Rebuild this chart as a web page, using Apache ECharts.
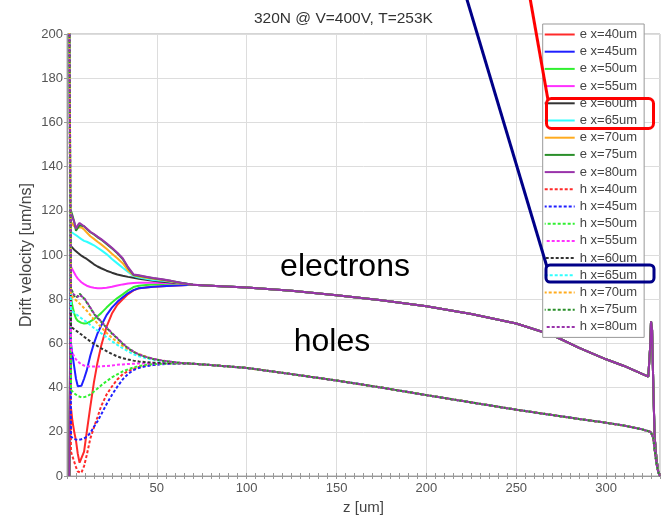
<!DOCTYPE html>
<html><head><meta charset="utf-8">
<script src="https://cdn.jsdelivr.net/npm/echarts@6/dist/echarts.min.js"></script>
<style>html,body{margin:0;padding:0;background:#fff}#c{width:664px;height:522px}</style>
</head><body><div id="c"></div>
<script>
// ---- data ----
const Z_EARLY = [1.3, 2.2, 3, 4, 5, 6, 7, 8, 9.5, 11, 13, 15, 17, 19, 22, 25, 28, 31, 34, 37, 40, 44, 48, 53, 58, 64];
const Z_TAIL = [70, 80, 100, 125, 150, 175, 200, 225, 250, 270, 285, 300, 310, 320, 323.5, 324.5, 325, 325.6, 326.3, 327, 328, 329, 330];
const E_TAIL = [86.5, 86.1, 85.3, 83.8, 81.8, 79.5, 76.8, 73.3, 69, 63.8, 58, 52.8, 49.8, 46.2, 45, 58, 70, 66, 40, 18, 8, 2, 0];
const H_TAIL = [50.8, 50.2, 48.9, 46.1, 43.2, 40, 36.6, 33.3, 30, 27.6, 25.8, 24.1, 22.8, 21.1, 20.3, 20, 19.8, 19.4, 17, 12, 6, 2, 0];

const E40 = [0, 31, 25, 20, 16, 10, 6, 5.5, 11, 20, 31.5, 42.5, 51.5, 58.8, 67.5, 73.5, 77.5, 80, 82.3, 84, 84.9, 85.3, 85.6, 85.9, 86.1, 86.3];
const E45 = [0, 60, 55, 49.5, 44, 40.6, 39.8, 40.8, 44, 47.8, 54.5, 60, 64.6, 68, 72.8, 76.2, 78.8, 80.9, 82.8, 84.1, 85, 85.3, 85.6, 85.9, 86.1, 86.3];
const E50 = [0, 81, 77, 73.6, 71.3, 70.2, 69.6, 69.3, 69, 69.1, 70, 71, 72.3, 73.7, 76.2, 78.5, 80.5, 82.2, 84, 85.5, 86.1, 86.4, 86.7, 86.9, 87, 87];
const E55 = [0, 94.7, 93.5, 92, 90.5, 89.3, 88.4, 87.7, 86.8, 86.1, 85.5, 85.2, 85, 85, 85.2, 85.6, 86.2, 86.7, 87.1, 87.3, 87.4, 87.4, 87.4, 87.3, 87.2, 87.1];
const E60 = [0, 104, 103.2, 102.4, 101.7, 101, 100.3, 99.7, 98.9, 98.2, 97, 95.8, 94.8, 94, 92.9, 92, 91.2, 90.6, 90.1, 89.7, 89.3, 88.8, 88.4, 87.9, 87.6, 87.2];
const E65 = [0, 110.5, 110, 109.5, 109, 108.4, 107.8, 107.2, 106.4, 106, 105.2, 104.4, 103.3, 102.2, 100.4, 98.2, 96.2, 94.2, 92.3, 90.5, 89.8, 89.2, 88.7, 88.3, 87.9, 87.3];
const E70 = [0, 115, 114, 113, 112.5, 112.5, 112.8, 112.5, 111.5, 110.2, 108.5, 107.3, 106, 104.8, 102.8, 100.6, 98.5, 96.3, 93, 90.8, 90.3, 89.7, 89.2, 88.7, 88, 87.2];
const E75 = [0, 120, 118, 115, 111, 110.5, 113.5, 114, 113, 111.8, 110.3, 109.3, 108, 107, 105, 103, 100.8, 98.2, 94.2, 91, 90.6, 90, 89.5, 88.9, 88.2, 87.3];
const E80 = [0, 119, 117, 115, 112, 113.5, 114.5, 114.2, 113, 112, 110.5, 109.5, 108.3, 107.2, 105.3, 103.3, 101, 98.5, 94.5, 91.2, 90.8, 90.2, 89.6, 89, 88.3, 87.3];

const H40 = [210, 11, 9, 6.5, 4, 2, 1.2, 1.5, 4.5, 9.5, 17, 22, 26.7, 31.6, 36.8, 40.5, 43.7, 46, 47.5, 48.5, 49.3, 50, 50.4, 50.7, 50.9, 51];
const H45 = [210, 17.8, 17.2, 16.7, 16.4, 16.3, 16.4, 16.6, 17, 17.7, 19.5, 22.3, 24.8, 27.8, 32.5, 36.7, 40.4, 43.7, 46.2, 47.9, 48.9, 49.7, 50.2, 50.6, 50.8, 51];
const H50 = [210, 39, 38.2, 37.4, 36.7, 36.2, 35.8, 35.6, 35.7, 36, 36.9, 38.2, 39.6, 41, 42.9, 44.6, 46, 47.3, 48.3, 49.1, 49.8, 50.3, 50.6, 50.8, 50.9, 51];
const H55 = [210, 58, 56, 54, 52.8, 51.8, 51, 50.5, 50, 49.7, 49.5, 49.5, 49.5, 49.6, 49.8, 50, 50.3, 50.5, 50.7, 50.8, 50.9, 51, 51, 51, 51, 51];
const H60 = [210, 67.6, 67, 66.4, 65.8, 65.2, 64.6, 64, 63, 62.1, 60.9, 59.8, 58.8, 57.8, 56.5, 55.2, 54.1, 53.3, 52.7, 52.2, 51.8, 51.5, 51.3, 51.2, 51.1, 51];
const H65 = [210, 75, 74.4, 73.8, 73.2, 72.6, 72, 71.4, 70.5, 69.6, 68.3, 67, 65.8, 64.6, 62.8, 61, 59.3, 57.8, 56.4, 55.1, 54.2, 53.3, 52.6, 52, 51.5, 51.1];
const H70 = [210, 82, 81, 80.2, 79.5, 78.8, 78, 77.2, 76, 74.8, 72.8, 70.8, 69, 67.3, 64.8, 62.5, 60.6, 58.9, 57.4, 56.2, 55.2, 54, 53, 52.2, 51.6, 51.1];
const H75 = [210, 85, 83.5, 81.5, 80.5, 81.5, 82.5, 82, 80.3, 78.5, 76, 73.4, 71.5, 69.8, 67.1, 64.5, 62.2, 59.8, 57.8, 56.2, 54.9, 53.8, 52.9, 52.2, 51.6, 51.1];
const H80 = [210, 84, 83, 82, 81.5, 81, 82, 82, 80.5, 78.8, 76.2, 73.6, 71.7, 70, 67.3, 64.7, 62.4, 60, 58, 56.3, 55, 53.9, 53, 52.3, 51.7, 51.1];

const X_POS = ['40', '45', '50', '55', '60', '65', '70', '75', '80'];
const E_SERIES = [E40, E45, E50, E55, E60, E65, E70, E75, E80];
const H_SERIES = [H40, H45, H50, H55, H60, H65, H70, H75, H80];
const COLORS = ['#ff2a2a', '#1f1fff', '#30f030', '#ff30ff', '#333333', '#30ffff', '#ffab1f', '#2a8f2a', '#9933aa'];
const TITLE = '320N @ V=400V, T=253K';

// ---- build ----
const FONT = 'Liberation Sans';
function zip(zs, vs) { return zs.map((z, i) => [z, vs[i]]); }
const series = [];
E_SERIES.forEach((vals, i) => {
  series.push({
    name: 'e x=' + X_POS[i] + 'um', type: 'line', symbol: 'none', showSymbol: false, animation: false,
    data: zip(Z_EARLY, vals).concat(zip(Z_TAIL, E_TAIL)),
    lineStyle: { color: COLORS[i], width: 2 }, itemStyle: { color: COLORS[i] }
  });
});
H_SERIES.forEach((vals, i) => {
  series.push({
    name: 'h x=' + X_POS[i] + 'um', type: 'line', symbol: 'none', showSymbol: false, animation: false,
    data: zip(Z_EARLY, vals).concat(zip(Z_TAIL, H_TAIL)),
    lineStyle: { color: COLORS[i], width: 2, type: [3, 2], dashOffset: i % 5 }, itemStyle: { color: COLORS[i] }
  });
});

const chart = echarts.init(document.getElementById('c'), null, { renderer: 'canvas' });
chart.setOption({
  animation: false,
  backgroundColor: '#fff',
  textStyle: { fontFamily: FONT },
  title: { text: TITLE, left: 249, top: 6, textStyle: { fontFamily: FONT, fontSize: 15.5, fontWeight: 'normal', color: '#333' } },
  grid: { left: 67, right: 4, top: 34, bottom: 46, show: true, borderColor: '#aaa', borderWidth: 1 },
  xAxis: [{
    type: 'value', min: 0, max: 330, interval: 50,
    name: 'z [um]', nameLocation: 'middle', nameGap: 24, nameMoveOverlap: false,
    nameTextStyle: { fontFamily: FONT, fontSize: 15, color: '#444' },
    axisLine: { lineStyle: { color: '#999' } },
    axisTick: { show: true, length: 3, lineStyle: { color: '#999' } },
    minorTick: { show: true, splitNumber: 10, length: 3, lineStyle: { color: '#999' } },
    axisLabel: { fontFamily: FONT, fontSize: 13, color: '#555', margin: 6, showMinLabel: false, showMaxLabel: false },
    splitLine: { lineStyle: { color: '#ddd' } }
  }, {
    type: 'value', min: 0, max: 330, interval: 50, position: 'bottom',
    axisLine: { show: false }, axisLabel: { show: false }, splitLine: { show: false },
    axisTick: { show: true, inside: true, length: 3, lineStyle: { color: '#999' } },
    minorTick: { show: true, splitNumber: 10, length: 3, lineStyle: { color: '#999' } }
  }],
  yAxis: {
    type: 'value', min: 0, max: 200, interval: 20,
    name: 'Drift velocity [um/ns]', nameLocation: 'middle', nameGap: 32, nameMoveOverlap: false,
    nameTextStyle: { fontFamily: FONT, fontSize: 16, color: '#444' },
    axisLine: { show: true, lineStyle: { color: '#999' } },
    axisTick: { show: true, length: 3, lineStyle: { color: '#999' } },
    axisLabel: { fontFamily: FONT, fontSize: 13, color: '#555', margin: 4 },
    splitLine: { lineStyle: { color: '#ddd' } }
  },
  legend: {
    orient: 'vertical', left: 542.7, top: 24,
    padding: [4, 7, 4, 1], itemWidth: 30, itemHeight: 13, itemGap: 4.2,
    backgroundColor: '#fff', borderColor: '#999', borderWidth: 1,
    itemStyle: { opacity: 0, borderWidth: 0 },
    textStyle: { fontFamily: FONT, fontSize: 13, color: '#444' }
  },
  series: series,
  graphic: [
    { type: 'line', shape: { x1: 530, y1: -2, x2: 548, y2: 100 }, style: { stroke: '#ff0000', lineWidth: 3 }, z: 100 },
    { type: 'rect', shape: { x: 546.5, y: 98.5, width: 107, height: 30, r: 5 }, style: { fill: 'none', stroke: '#ff0000', lineWidth: 3 }, z: 100 },
    { type: 'line', shape: { x1: 466.5, y1: -2, x2: 547, y2: 267 }, style: { stroke: '#000088', lineWidth: 3 }, z: 100 },
    { type: 'rect', shape: { x: 546, y: 265, width: 108, height: 17, r: 4 }, style: { fill: 'none', stroke: '#000088', lineWidth: 3 }, z: 100 },
    { type: 'text', style: { text: 'electrons', x: 345, y: 267, align: 'center', verticalAlign: 'middle', font: '32px "Liberation Sans"', fill: '#000' }, z: 100 },
    { type: 'text', style: { text: 'holes', x: 332, y: 342, align: 'center', verticalAlign: 'middle', font: '32px "Liberation Sans"', fill: '#000' }, z: 100 }
  ]
});
</script></body></html>
